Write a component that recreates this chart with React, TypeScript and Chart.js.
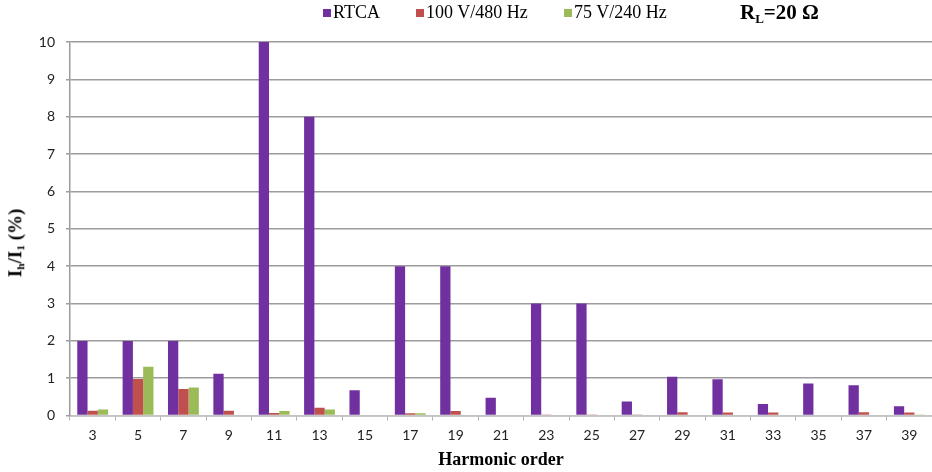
import { useEffect, useRef } from "react";
import { Chart, registerables } from "chart.js";

Chart.register(...registerables);

// Harmonic orders on the category axis
const harmonicOrders = [
  "3", "5", "7", "9", "11", "13", "15", "17", "19", "21",
  "23", "25", "27", "29", "31", "33", "35", "37", "39",
];

// Harmonic current as a percentage of the fundamental, Ih/I1 (%)
const rtcaLimit = [2, 2, 2, 1.12, 10, 8, 0.68, 4, 4, 0.48, 3, 3, 0.38, 1.04, 0.97, 0.31, 0.86, 0.81, 0.25];
const supply100V480Hz = [0.13, 0.98, 0.71, 0.13, 0.07, 0.21, 0, 0.06, 0.12, 0, 0.03, 0.03, 0.03, 0.09, 0.08, 0.08, 0, 0.09, 0.08];
const supply75V240Hz = [0.16, 1.31, 0.75, 0, 0.12, 0.16, 0, 0.06, 0, 0, 0, 0, 0, 0, 0, 0, 0, 0, 0.03];

const seriesNames = ["RTCA", "100 V/480 Hz", "75 V/240 Hz"];
const seriesColors = ["#7030A0", "#C0504D", "#9BBB59"];
const legendBoxLeft = [323, 416, 564];

const yTickValues = [0, 1, 2, 3, 4, 5, 6, 7, 8, 9, 10];

const SERIF = "'Liberation Serif', 'Times New Roman', serif";

export default function App() {
  const canvasRef = useRef<HTMLCanvasElement>(null);

  useEffect(() => {
    const canvas = canvasRef.current;
    if (!canvas) return;
    const seriesData = [rtcaLimit, supply100V480Hz, supply75V240Hz];

    const chart = new Chart(canvas, {
      type: "bar",
      data: {
        labels: harmonicOrders,
        datasets: seriesNames.map((name, i) => ({
          label: name,
          data: seriesData[i],
          backgroundColor: seriesColors[i],
          borderWidth: 0,
          categoryPercentage: 0.68,
          barPercentage: 1,
        })),
      },
      options: {
        animation: false,
        responsive: false,
        maintainAspectRatio: false,
        layout: { padding: { left: 38, right: 0, top: 42, bottom: 1 } },
        plugins: {
          legend: { display: false },
          tooltip: { enabled: false },
        },
        scales: {
          x: {
            grid: {
              display: true,
              drawOnChartArea: false,
              drawTicks: true,
              tickLength: 5,
              color: "#b4b4b4",
              lineWidth: 1,
            },
            border: { color: "#c4c4c4", width: 1.5 },
            ticks: {
              color: "#222",
              font: { family: "Lato", size: 14 },
              padding: 6,
              maxRotation: 0,
            },
            title: {
              display: true,
              text: "Harmonic order",
              color: "#000",
              font: { family: SERIF, size: 18, weight: "bold" },
              padding: { top: 0, bottom: 0 },
            },
          },
          y: {
            min: 0,
            max: 10,
            afterBuildTicks: (scale: any) => {
              scale.ticks = yTickValues.map((v) => ({ value: v }));
            },
            afterFit: (scale: any) => {
              scale.width = 32;
            },
            grid: { color: "#9c9c9c", lineWidth: 1.5, tickLength: 4 },
            border: { color: "#9c9c9c", width: 1.5 },
            ticks: {
              color: "#222",
              font: { family: "Lato", size: 14 },
              padding: 11,
            },
          },
        },
      },
    });

    return () => chart.destroy();
  }, []);

  return (
    <div
      style={{
        position: "absolute",
        left: 0,
        top: 0,
        width: 932,
        height: 472,
        background: "#fff",
        overflow: "hidden",
      }}
    >
      <canvas ref={canvasRef} width={932} height={472} style={{ display: "block" }} />

      {seriesNames.map((name, i) => (
        <div key={name}>
          <div
            style={{
              position: "absolute",
              left: legendBoxLeft[i],
              top: 9,
              width: 8,
              height: 8,
              background: seriesColors[i],
            }}
          />
          <span
            style={{
              position: "absolute",
              left: legendBoxLeft[i] + 10,
              top: 3,
              fontFamily: SERIF,
              fontSize: 18,
              lineHeight: "18px",
              color: "#000",
              whiteSpace: "nowrap",
            }}
          >
            {name}
          </span>
        </div>
      ))}

      <span
        style={{
          position: "absolute",
          left: 740,
          top: 1,
          fontFamily: SERIF,
          fontSize: 21,
          fontWeight: "bold",
          lineHeight: "22px",
          color: "#000",
          whiteSpace: "nowrap",
        }}
      >
        R<sub style={{ fontSize: "0.62em", verticalAlign: "-0.3em" }}>L</sub>=20 Ω
      </span>

      <div
        style={{
          position: "absolute",
          left: 18,
          top: 243,
          transform: "translate(-50%, -50%) rotate(-90deg)",
          fontFamily: SERIF,
          fontSize: 19,
          fontWeight: "bold",
          lineHeight: "20px",
          color: "#000",
          whiteSpace: "nowrap",
        }}
      >
        I<sub style={{ fontSize: "0.6em", verticalAlign: "-0.3em" }}>h</sub>/I
        <sub style={{ fontSize: "0.6em", verticalAlign: "-0.3em" }}>1</sub> (%)
      </div>
    </div>
  );
}
